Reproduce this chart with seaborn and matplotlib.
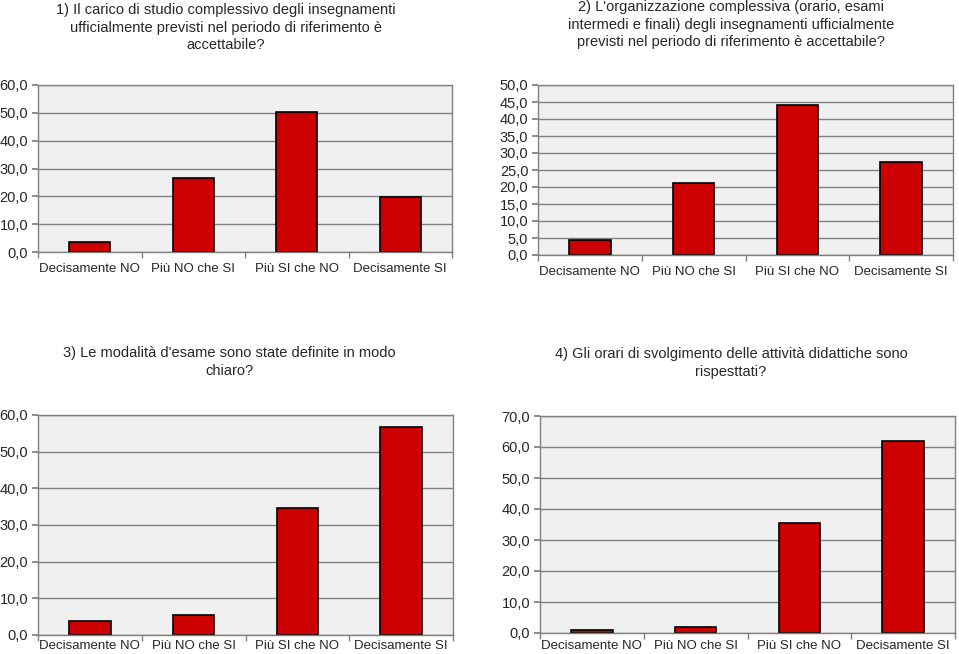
import matplotlib
matplotlib.use("Agg")
import matplotlib.pyplot as plt
import numpy as np
import pandas as pd
import seaborn as sns

categories = ["Decisamente NO", "Più NO che SI", "Più SI che NO", "Decisamente SI"]

q1_values = [3.6, 26.5, 50.4, 19.6]
q2_values = [4.4, 21.2, 44.2, 27.5]
q3_values = [3.7, 5.4, 34.6, 56.6]
q4_values = [1.1, 1.8, 35.4, 62.0]

titles = [
    "1) Il carico di studio complessivo degli insegnamenti\n"
    "ufficialmente previsti nel periodo di riferimento è\naccettabile?",
    "2) L'organizzazione complessiva (orario, esami\n"
    "intermedi e finali) degli insegnamenti ufficialmente\n"
    "previsti nel periodo di riferimento è accettabile?",
    "3) Le modalità d'esame sono state definite in modo\nchiaro?",
    "4) Gli orari di svolgimento delle attività didattiche sono\nrispesttati?",
]

y_max = [60, 50, 60, 70]
y_step = [10, 5, 10, 10]

sns.set_theme(style="white")
plt.rcParams["font.family"] = ["Liberation Sans", "DejaVu Sans"]

W, H = 959, 654
fig = plt.figure(figsize=(W / 100, H / 100), dpi=100)

# axes boxes in pixels: left, top, right, bottom
boxes = [
    (38, 85, 452, 252),
    (538, 85, 953, 255),
    (38, 415, 453, 635),
    (540, 416, 955, 633),
]
title_pos = [(226, 3), (731, 0), (229, 346), (731, 347)]
x_pad = [8, 8, 3.5, 5]

all_values = [q1_values, q2_values, q3_values, q4_values]

for i, vals in enumerate(all_values):
    l, t, r, b = boxes[i]
    ax = fig.add_axes([l / W, 1 - b / H, (r - l) / W, (b - t) / H])
    df = pd.DataFrame({"cat": categories, "val": vals})
    sns.barplot(data=df, x="cat", y="val", ax=ax, color="#CC0000",
                edgecolor="black", linewidth=1.2, width=0.4, saturation=1)
    ax.set_facecolor("#F0F0F0")
    ax.set_xlim(-0.5, 3.5)
    ax.set_ylim(0, y_max[i])
    ticks = np.arange(0, y_max[i] + 0.1, y_step[i])
    ax.set_yticks(ticks)
    ax.set_yticklabels([f"{v:.1f}".replace(".", ",") for v in ticks], fontsize=10.5)
    ax.yaxis.grid(True, color="#808080", linewidth=1)
    ax.set_axisbelow(True)
    ax.set_xlabel("")
    ax.set_ylabel("")
    ax.set_xticks(range(4))
    ax.set_xticklabels(categories, fontsize=9.5)
    ax.set_xticks([-0.5, 0.5, 1.5, 2.5, 3.5], minor=True)
    ax.tick_params(axis="x", which="major", length=0, pad=x_pad[i])
    ax.tick_params(axis="x", which="minor", length=4, color="#808080", bottom=True)
    ax.tick_params(axis="y", length=4, color="#808080", left=True, pad=3)
    for s in ax.spines.values():
        s.set_color("#808080")
        s.set_linewidth(1)
    tx, ty = title_pos[i]
    fig.text(tx / W, 1 - ty / H, titles[i], ha="center", va="top",
             fontsize=10.5, linespacing=1.32)

fig.savefig("out.png", dpi=100, facecolor="white")
